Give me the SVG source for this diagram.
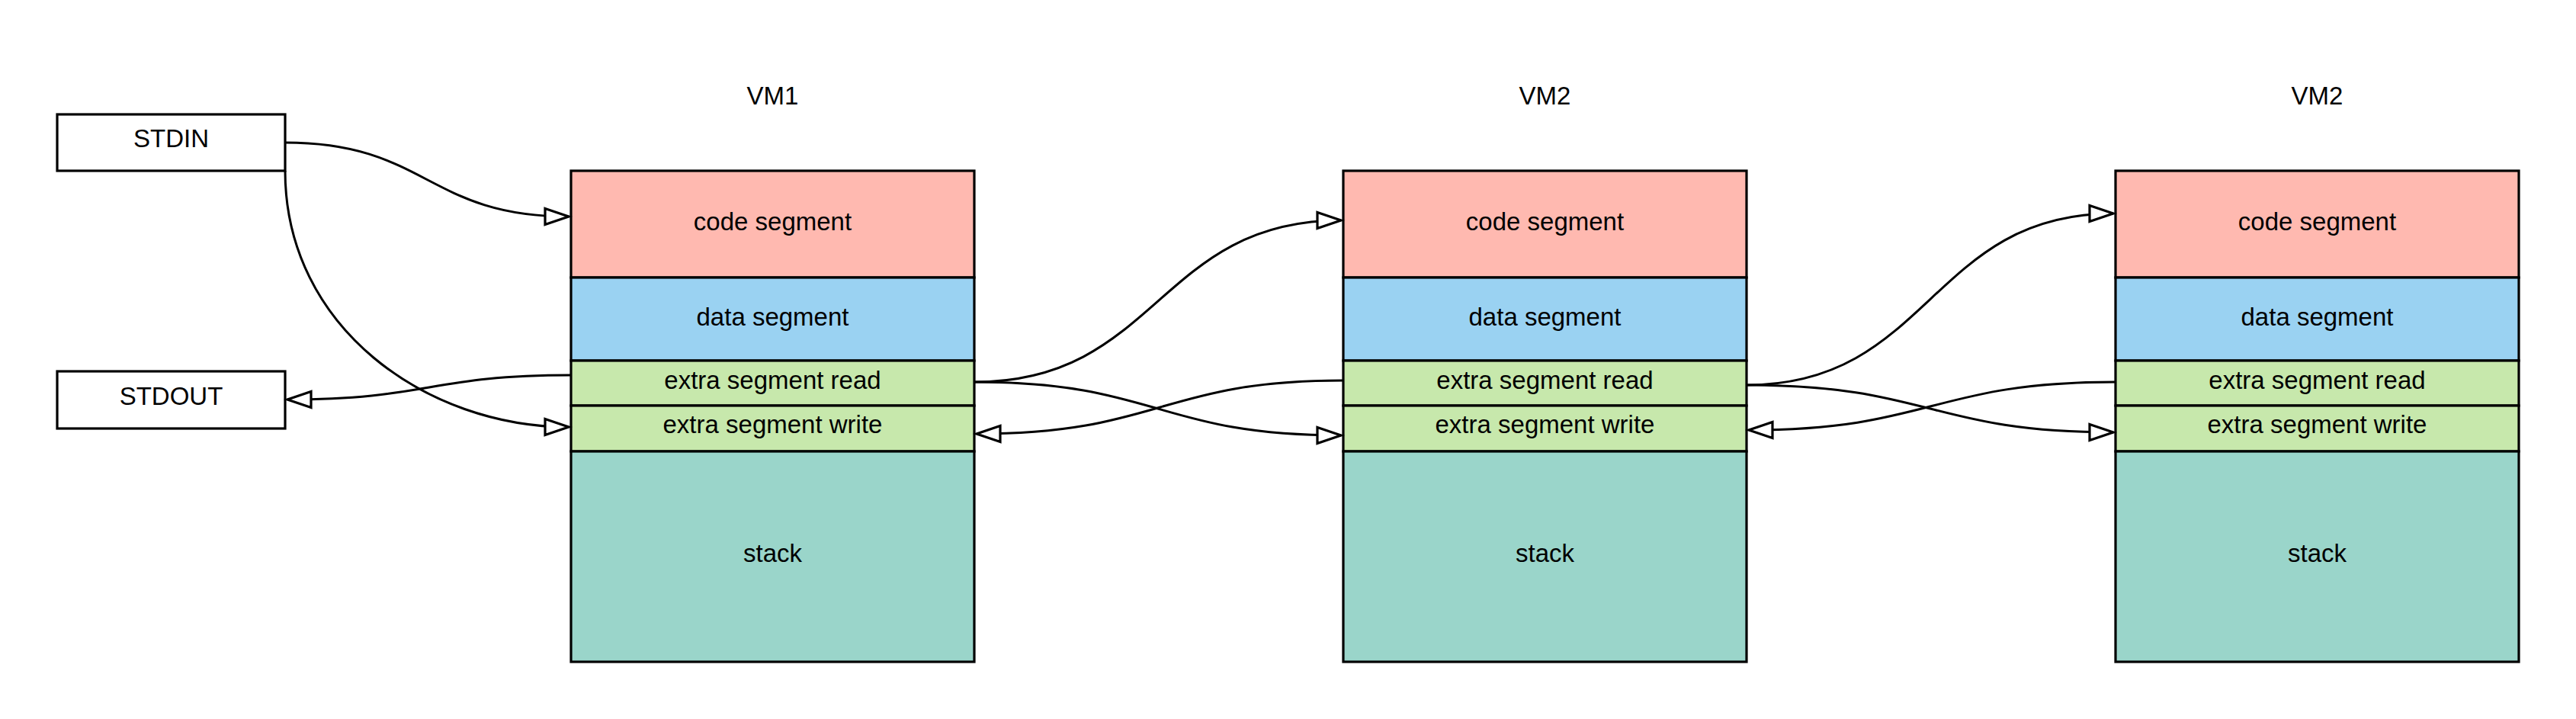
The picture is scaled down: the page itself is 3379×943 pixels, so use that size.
<svg xmlns="http://www.w3.org/2000/svg" width="3379" height="943" viewBox="0 0 3379 943">
<style>
text{font-family:"Liberation Sans",Arial,sans-serif;font-size:33px;fill:#000;text-anchor:middle}
.box{stroke:#000;stroke-width:3.2}
.code{fill:#FFB9B0}
.data{fill:#9AD2F2}
.extra{fill:#C7E8AC}
.stack{fill:#9AD5CA}
.io{fill:#fff;stroke:#000;stroke-width:3.2}
.conn{fill:none;stroke:#000;stroke-width:3;marker-end:url(#arr)}
</style>
<defs>
<marker id="arr" markerUnits="userSpaceOnUse" viewBox="-4 -4 40 30" markerWidth="40" markerHeight="30" refX="31" refY="10.5" orient="auto">
<path d="M0,0 L31,10.5 L0,21 Z" fill="#fff" stroke="#000" stroke-width="3.2" stroke-linejoin="miter"/>
</marker>
</defs>
<rect width="3379" height="943" fill="#fff"/>
<g id="stdin">
<rect class="io" x="75" y="150" width="299" height="74"/>
<text x="224.5" y="193">STDIN</text>
</g>
<g id="stdout">
<rect class="io" x="75" y="487" width="299" height="75"/>
<text x="224.5" y="531">STDOUT</text>
</g>
<g id="vm1" transform="translate(749,0)">
<text x="264.5" y="137">VM1</text>
<rect class="box code" x="0" y="224" width="529" height="140"/>
<rect class="box data" x="0" y="364" width="529" height="109"/>
<rect class="box extra" x="0" y="473" width="529" height="59"/>
<rect class="box extra" x="0" y="532" width="529" height="60"/>
<rect class="box stack" x="0" y="592" width="529" height="276"/>
<text x="264.5" y="302">code segment</text>
<text x="264.5" y="427">data segment</text>
<text x="264.5" y="510">extra segment read</text>
<text x="264.5" y="568">extra segment write</text>
<text x="264.5" y="737">stack</text>
</g>
<g id="vm2" transform="translate(1762,0)">
<text x="264.5" y="137">VM2</text>
<rect class="box code" x="0" y="224" width="529" height="140"/>
<rect class="box data" x="0" y="364" width="529" height="109"/>
<rect class="box extra" x="0" y="473" width="529" height="59"/>
<rect class="box extra" x="0" y="532" width="529" height="60"/>
<rect class="box stack" x="0" y="592" width="529" height="276"/>
<text x="264.5" y="302">code segment</text>
<text x="264.5" y="427">data segment</text>
<text x="264.5" y="510">extra segment read</text>
<text x="264.5" y="568">extra segment write</text>
<text x="264.5" y="737">stack</text>
</g>
<g id="vm3" transform="translate(2775,0)">
<text x="264.5" y="137">VM2</text>
<rect class="box code" x="0" y="224" width="529" height="140"/>
<rect class="box data" x="0" y="364" width="529" height="109"/>
<rect class="box extra" x="0" y="473" width="529" height="59"/>
<rect class="box extra" x="0" y="532" width="529" height="60"/>
<rect class="box stack" x="0" y="592" width="529" height="276"/>
<text x="264.5" y="302">code segment</text>
<text x="264.5" y="427">data segment</text>
<text x="264.5" y="510">extra segment read</text>
<text x="264.5" y="568">extra segment write</text>
<text x="264.5" y="737">stack</text>
</g>
<g id="connectors">
<path class="conn" d="M374 187 C 560 187, 560 284, 746 284"/>
<path class="conn" d="M374 224 C 374 430, 560 560, 746 560"/>
<path class="conn" d="M749 492 C 563 492, 563 524, 377 524"/>
<path class="conn" d="M1278 501 C 1519 501, 1519 289, 1759 289"/>
<path class="conn" d="M1278 501 C 1519 501, 1519 571, 1759 571"/>
<path class="conn" d="M1762 499 C 1522 499, 1522 569, 1281 569"/>
<path class="conn" d="M2291 505 C 2532 505, 2532 280, 2772 280"/>
<path class="conn" d="M2291 505 C 2532 505, 2532 567, 2772 567"/>
<path class="conn" d="M2775 501 C 2534 501, 2534 564, 2294 564"/>
</g>
</svg>
